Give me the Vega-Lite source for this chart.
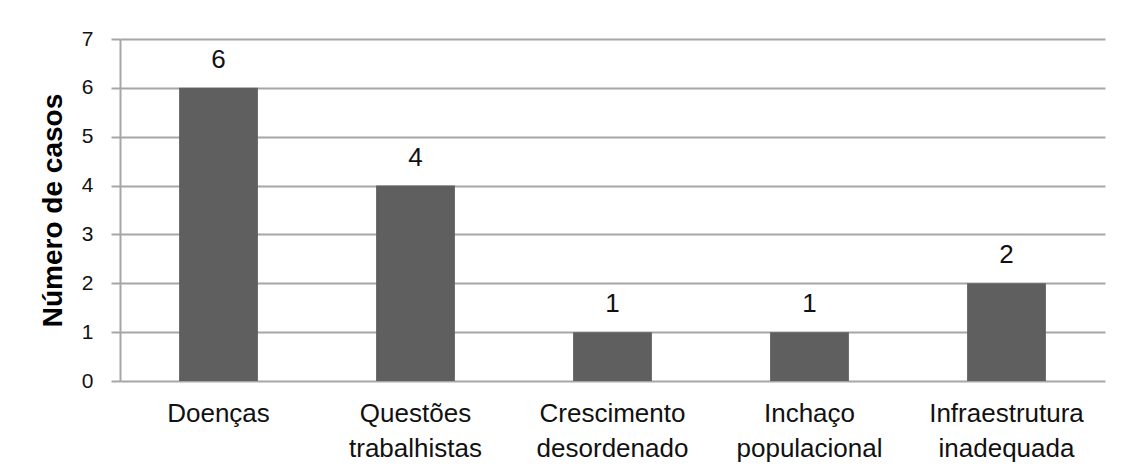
{
  "$schema": "https://vega.github.io/schema/vega-lite/v6.json",
  "width": 985,
  "height": 342,
  "autosize": {"type": "none"},
  "padding": {"left": 120, "top": 39, "right": 21, "bottom": 94},
  "background": "#ffffff",
  "config": {
    "view": {"stroke": null},
    "font": "Liberation Sans"
  },
  "data": {
    "values": [
      {"categoria": "Doenças", "casos": 6},
      {"categoria": "Questões|trabalhistas", "casos": 4},
      {"categoria": "Crescimento|desordenado", "casos": 1},
      {"categoria": "Inchaço|populacional", "casos": 1},
      {"categoria": "Infraestrutura|inadequada", "casos": 2}
    ]
  },
  "encoding": {
    "x": {
      "field": "categoria",
      "type": "nominal",
      "sort": null,
      "scale": {"paddingInner": 0.6, "paddingOuter": 0.3},
      "axis": {
        "title": null,
        "labelAngle": 0,
        "labelExpr": "split(datum.label, '|')",
        "labelFont": "Liberation Sans",
        "labelFontSize": 26,
        "labelColor": "#111111",
        "labelLineHeight": 35,
        "labelPadding": 19,
        "labelBaseline": "top",
        "ticks": false,
        "domain": false,
        "grid": false
      }
    },
    "y": {
      "field": "casos",
      "type": "quantitative",
      "scale": {"domain": [0, 7], "nice": false},
      "axis": {
        "title": "Número de casos",
        "titleFont": "Liberation Sans",
        "titleFontSize": 28,
        "titleFontWeight": "bold",
        "titleColor": "#000000",
        "titlePadding": 14,
        "values": [0, 1, 2, 3, 4, 5, 6, 7],
        "labelFont": "Liberation Sans",
        "labelFontSize": 21,
        "labelColor": "#111111",
        "labelPadding": 18,
        "tickSize": 9,
        "tickColor": "#a6a6a6",
        "tickWidth": 2,
        "domainColor": "#a6a6a6",
        "domainWidth": 2,
        "grid": true,
        "gridColor": "#a6a6a6",
        "gridWidth": 2
      }
    }
  },
  "layer": [
    {
      "mark": {"type": "bar", "color": "#5f5f5f"}
    },
    {
      "mark": {
        "type": "text",
        "baseline": "alphabetic",
        "dy": -20,
        "font": "Liberation Sans",
        "fontSize": 26,
        "color": "#111111"
      },
      "encoding": {"text": {"field": "casos", "type": "quantitative"}}
    }
  ]
}
